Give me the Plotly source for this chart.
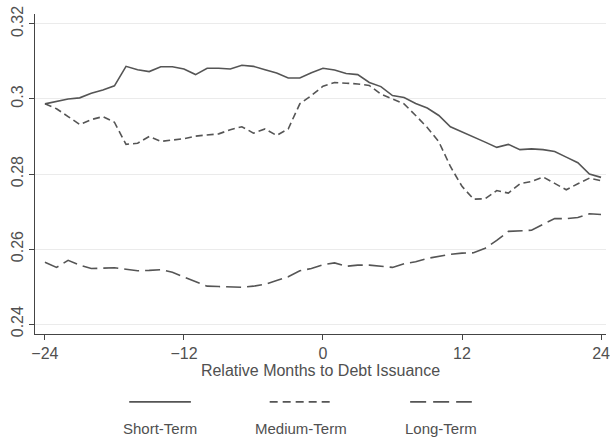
import plotly.graph_objects as go

# Months relative to the debt issuance event
months = list(range(-24, 25))

short_term = [
    0.2987, 0.2994, 0.3000, 0.3003, 0.3015, 0.3024, 0.3035, 0.3087, 0.3078, 0.3073,
    0.3086, 0.3086, 0.3080, 0.3065, 0.3082, 0.3082, 0.3080, 0.3090, 0.3087, 0.3078,
    0.3069, 0.3056, 0.3056, 0.3070, 0.3082, 0.3077, 0.3068, 0.3065, 0.3044, 0.3033,
    0.3009, 0.3004, 0.2988, 0.2976, 0.2956, 0.2926, 0.2913, 0.2900, 0.2885, 0.2871,
    0.2879, 0.2865, 0.2867, 0.2865, 0.2860, 0.2845, 0.2830, 0.2800, 0.2791,
]

medium_term = [
    0.2987, 0.2974, 0.2953, 0.2932, 0.2945, 0.2953, 0.2938, 0.2879, 0.2882, 0.2900,
    0.2887, 0.2891, 0.2894, 0.2901, 0.2904, 0.2907, 0.2918, 0.2926, 0.2909, 0.2920,
    0.2903, 0.2920, 0.2987, 0.3009, 0.3034, 0.3044, 0.3042, 0.3040, 0.3036, 0.3013,
    0.3000, 0.2987, 0.2956, 0.2924, 0.2886, 0.2820, 0.2767, 0.2733, 0.2734, 0.2756,
    0.2749, 0.2774, 0.2780, 0.2792, 0.2775, 0.2758, 0.2774, 0.2789, 0.2782,
]

long_term = [
    0.2565, 0.2551, 0.2570, 0.2557, 0.2548, 0.2549, 0.2550, 0.2546, 0.2542, 0.2543,
    0.2545, 0.2538, 0.2526, 0.2514, 0.2501, 0.2500, 0.2499, 0.2498, 0.2501, 0.2506,
    0.2516, 0.2526, 0.2542, 0.2548, 0.2558, 0.2563, 0.2554, 0.2557, 0.2557, 0.2555,
    0.2551, 0.2561, 0.2566, 0.2575, 0.2581, 0.2586, 0.2589, 0.2590, 0.2602, 0.2623,
    0.2647, 0.2648, 0.2650, 0.2666, 0.2681, 0.2681, 0.2684, 0.2694, 0.2692,
]

x_ticks = [-24, -12, 0, 12, 24]
x_tick_text = ["\u221224", "\u221212", "0", "12", "24"]
y_ticks = [0.24, 0.26, 0.28, 0.30, 0.32]
y_tick_text = ["0.24", "0.26", "0.28", "0.3", "0.32"]

series_names = ["Short-Term", "Medium-Term", "Long-Term"]
series_dash = ["solid", "7px,4px", "15px,6px"]
legend_dash = ["solid", "8px,5px", "16px,7px"]
line_color = "#555555"
text_color = "#505050"
font_family = "Liberation Sans, Arial, sans-serif"

fig = go.Figure()
for name, vals, dash in zip(series_names, [short_term, medium_term, long_term], series_dash):
    fig.add_trace(go.Scatter(
        x=months, y=vals, mode="lines", name=name,
        line=dict(color=line_color, width=1.6, dash=dash),
        showlegend=False,
    ))

# Legend drawn beneath the axis title: sample line above, label below
legend_centers = [0.219, 0.465, 0.711]
shapes = []
annotations = []
for cx, name, dash in zip(legend_centers, series_names, legend_dash):
    shapes.append(dict(
        type="line", xref="paper", yref="paper",
        x0=cx - 0.054, x1=cx + 0.054, y0=-0.212, y1=-0.212,
        line=dict(color=line_color, width=1.6, dash=dash),
    ))
    annotations.append(dict(
        text=name, xref="paper", yref="paper", x=cx, y=-0.295,
        showarrow=False, xanchor="center", yanchor="middle",
        font=dict(size=15, color=text_color, family=font_family),
    ))

fig.update_layout(
    width=610, height=438,
    margin=dict(l=35, r=0, t=14, b=104),
    paper_bgcolor="white", plot_bgcolor="white",
    font=dict(family=font_family, color=text_color, size=15),
    shapes=shapes, annotations=annotations,
    xaxis=dict(
        range=[-24.857, 24.43], tickvals=x_ticks, ticktext=x_tick_text,
        showgrid=False, zeroline=False,
        showline=True, linecolor="#444444", linewidth=1,
        ticks="outside", ticklen=5, tickcolor="#444444",
        ticklabeloverflow="allow",
        tickfont=dict(size=16, color=text_color),
        title=dict(text="Relative Months to Debt Issuance", standoff=0,
                   font=dict(size=16, color=text_color)),
    ),
    yaxis=dict(
        range=[0.23735, 0.32265], tickvals=y_ticks, ticktext=y_tick_text,
        showgrid=True, gridcolor="#ebebeb", gridwidth=1, zeroline=False,
        showline=True, linecolor="#444444", linewidth=1,
        ticks="outside", ticklen=5, tickcolor="#444444",
        tickangle=-90, tickfont=dict(size=16, color=text_color),
    ),
)

fig.write_html("out.html")
